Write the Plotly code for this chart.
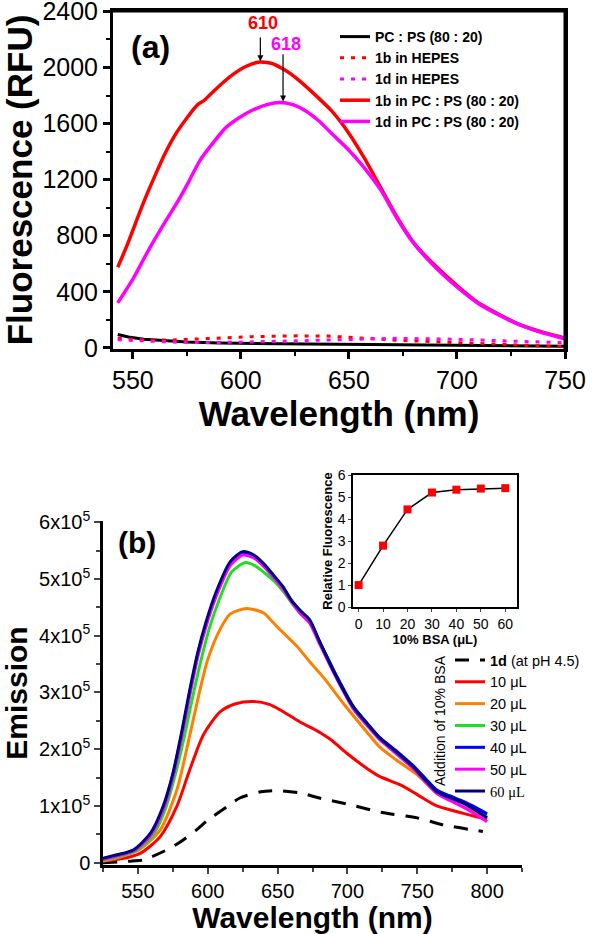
import plotly.graph_objects as go

# ---- panel (a) data: fluorescence (RFU) vs wavelength ----
wl_pcps = [543, 548, 555, 565, 575, 590, 610, 630, 660, 700, 750]
pcps = [95, 78, 62, 50, 42, 35, 30, 27, 24, 18, 12]

wl_1b_hepes = [543, 555, 568, 585, 605, 626, 640, 650, 672, 699, 727, 744, 750]
b1_hepes = [68, 58, 56, 68, 80, 86, 84, 76, 55, 38, 21, 10, 8]

wl_1d_hepes = [543, 555, 570, 590, 610, 626, 650, 672, 699, 727, 744, 750]
d1_hepes = [58, 48, 40, 38, 42, 50, 60, 68, 62, 50, 40, 36]

wl_1b_lip = [543, 547, 551, 555, 560, 565, 570, 575, 580, 583, 588, 595, 602, 608, 614, 620,
             627, 634, 642, 650, 657, 665, 672, 680, 690, 700, 710, 720, 730, 740, 750]
b1_lip = [575, 720, 880, 1040, 1220, 1390, 1530, 1640, 1735, 1765, 1840, 1935, 2005, 2038, 2030, 1985,
          1907, 1810, 1690, 1530, 1357, 1135, 940, 750, 585, 445, 320, 235, 160, 110, 70]

wl_1d_lip = [543, 550, 557, 565, 571, 576, 581, 587, 593, 599, 605, 612, 618, 624, 630, 636,
             642, 650, 657, 665, 672, 680, 690, 700, 710, 720, 730, 740, 750]
d1_lip = [321, 490, 690, 900, 1050, 1190, 1336, 1460, 1571, 1640, 1693, 1735, 1750, 1735, 1690, 1620,
          1529, 1410, 1286, 1120, 930, 745, 575, 435, 315, 230, 158, 105, 65]

# ---- panel (b) data: emission vs wavelength on BSA addition ----
wl_ph = [525, 546, 554, 571, 580, 592, 600, 614, 623, 638, 650, 666, 680, 702, 726, 750, 768, 797]
em_ph = [0, 3000, 5000, 23000, 36000, 58000, 75000, 99000, 114000, 125000, 127000, 123000,
         114000, 102000, 88000, 79000, 67000, 55000]

wl_10 = [525, 540, 552, 566, 578, 587, 597, 609, 620, 632, 644, 652, 666, 680, 688, 700, 714,
         723, 738, 750, 764, 783, 800]
em_10 = [3000, 8000, 17000, 46000, 100000, 163000, 226000, 266000, 280000, 284000, 279000, 269000,
         248000, 230000, 217000, 192000, 166000, 152000, 137000, 120000, 100000, 87000, 76000]

wl_20 = [525, 537, 551, 566, 578, 586, 594, 600, 609, 616, 628, 640, 645, 652, 664, 673, 683,
         697, 714, 723, 735, 750, 762, 780, 800]
em_20 = [3000, 10000, 23000, 58000, 129000, 212000, 300000, 358000, 412000, 438000, 448000, 440000,
         428000, 410000, 381000, 354000, 326000, 281000, 230000, 204000, 181000, 155000, 128000,
         102000, 79000]

wl_hi = [525, 535, 547, 559, 568, 575, 581, 587, 593, 599, 606, 616, 625, 633, 640, 647, 654,
         660, 666, 673, 680, 692, 704, 714, 723, 735, 747, 756, 764, 773, 783, 792, 800]
wl_30 = [525, 536, 548, 560, 569, 576, 583, 589, 595, 601, 608, 617, 627, 634, 641, 648, 655,
         660, 666, 673, 680, 692, 704, 714, 723, 735, 747, 756, 764, 773, 783, 792, 800]
em_30 = [5000, 11000, 20000, 46000, 90000, 148000, 220000, 290000, 355000, 412000, 462000, 512000,
         529000, 523000, 510000, 495000, 475000, 458000, 440000, 423000, 390000, 330000, 276000,
         246000, 220000, 196000, 170000, 146000, 127000, 116000, 105000, 93000, 82000]
em_40 = [7000, 13000, 22000, 50000, 96000, 154000, 222000, 298000, 368000, 422000, 472000, 525000,
         545000, 539000, 524000, 505000, 484000, 461000, 443000, 426000, 390000, 330000, 276000,
         246000, 221000, 197000, 171000, 148000, 128000, 118000, 108000, 97000, 86000]
em_50 = [6000, 12000, 21000, 48000, 93000, 151000, 218000, 294000, 364000, 418000, 469000, 523000,
         542000, 537000, 522000, 503000, 482000, 460000, 440000, 422000, 386000, 326000, 272000,
         242000, 217000, 192000, 166000, 142000, 122000, 110000, 98000, 85000, 72000]
em_60 = [8000, 14000, 23000, 52000, 99000, 157000, 226000, 303000, 372000, 426000, 477000, 530000,
         548000, 542000, 527000, 507000, 486000, 462000, 445000, 428000, 390000, 328000, 275000,
         245000, 220000, 195000, 169000, 145000, 125000, 115000, 105000, 92000, 79000]

# inset: relative fluorescence vs BSA volume
bsa_ul = [0, 10, 20, 30, 40, 50, 60]
rel_fl = [1.0, 2.8, 4.45, 5.22, 5.35, 5.4, 5.42]

em_ticks = [0, 100000, 200000, 300000, 400000, 500000, 600000]
em_ticktext = ["0", "1x10<sup>5</sup>", "2x10<sup>5</sup>", "3x10<sup>5</sup>",
               "4x10<sup>5</sup>", "5x10<sup>5</sup>", "6x10<sup>5</sup>"]

FONT = "Arial, Liberation Sans, sans-serif"
W, H = 600, 934


def px(x):
    return x / W


def py(y):
    return 1 - y / H


fig = go.Figure()

# panel (a)
fig.add_trace(go.Scatter(x=wl_pcps, y=pcps, mode="lines", name="PC : PS (80 : 20)",
                         line=dict(color="black", width=3), legend="legend"))
fig.add_trace(go.Scatter(x=wl_1b_hepes, y=b1_hepes, mode="lines", name="1b in HEPES",
                         line=dict(color="#ff0000", width=3, dash="4px,7px"), legend="legend"))
fig.add_trace(go.Scatter(x=wl_1d_hepes, y=d1_hepes, mode="lines", name="1d in HEPES",
                         line=dict(color="#ff00ff", width=3, dash="4px,7px"), legend="legend"))
fig.add_trace(go.Scatter(x=wl_1b_lip, y=b1_lip, mode="lines", name="1b in PC : PS (80 : 20)",
                         line=dict(color="#ff0000", width=3.5, shape="spline", smoothing=0.6),
                         legend="legend"))
fig.add_trace(go.Scatter(x=wl_1d_lip, y=d1_lip, mode="lines", name="1d in PC : PS (80 : 20)",
                         line=dict(color="#ff00ff", width=3.5, shape="spline", smoothing=0.6),
                         legend="legend"))

# panel (b)
b_series = [
    (wl_ph, em_ph, "<b>1d</b> (at pH 4.5)", "black", "14px,11px"),
    (wl_10, em_10, "10 \u03bcL", "#ff0000", "solid"),
    (wl_20, em_20, "20 \u03bcL", "#ff8000", "solid"),
    (wl_30, em_30, "30 \u03bcL", "#1ee01e", "solid"),
    (wl_hi, em_40, "40 \u03bcL", "#0000ff", "solid"),
    (wl_hi, em_50, "50 \u03bcL", "#ff00ff", "solid"),
    (wl_hi, em_60, '<span style="font-family:Liberation Serif">60 \u03bcL</span>', "#000080",
     "solid"),
]
for xs, ys, nm, col, dsh in b_series:
    fig.add_trace(go.Scatter(x=xs, y=ys, mode="lines", name=nm, xaxis="x2", yaxis="y2",
                             line=dict(color=col, width=3, dash=dsh, shape="spline",
                                       smoothing=0.7),
                             legend="legend2"))

# inset
fig.add_trace(go.Scatter(x=bsa_ul, y=rel_fl, mode="lines+markers", xaxis="x3", yaxis="y3",
                         line=dict(color="black", width=1.5),
                         marker=dict(symbol="square", size=8, color="#ff0000"),
                         showlegend=False))

tick_font = dict(family=FONT, size=25, color="black")
ax_a = dict(showline=True, mirror=True, linecolor="black", linewidth=3, ticks="outside",
            ticklen=7, tickwidth=2.5, tickcolor="black", tickfont=tick_font, showgrid=False,
            zeroline=False, automargin=False, ticklabeloverflow="allow")

# panel (a) frame edges in page fractions (top and right sides)
a_left, a_right, a_top, a_bottom = px(113), px(565), py(11), py(349)

fig.update_layout(
    width=W, height=H, margin=dict(l=0, r=0, t=0, b=0, autoexpand=False),
    paper_bgcolor="white", plot_bgcolor="white",
    font=dict(family=FONT, color="black"),
    xaxis=dict(ax_a, domain=[a_left, a_right], anchor="y", range=[540.8, 750], dtick=50,
               tick0=550, minor=dict(dtick=25, ticklen=4, tickwidth=2, ticks="outside"),
               title=dict(text="<b>Wavelength (nm)</b>", font=dict(size=35), standoff=0)),
    yaxis=dict(ax_a, domain=[a_bottom, a_top], anchor="x", range=[-8, 2403], dtick=400,
               minor=dict(dtick=200, ticklen=4, tickwidth=2, ticks="outside"),
               title=dict(text="<b>Fluorescence (RFU)</b>", font=dict(size=35), standoff=4)),
    xaxis2=dict(domain=[px(103), px(522)], anchor="y2", range=[525, 825], dtick=50, tick0=550,
                showline=True, linecolor="black", linewidth=2.5, ticks="outside", ticklen=6,
                tickwidth=2, tickfont=dict(family=FONT, size=20), showgrid=False, zeroline=False,
                automargin=False,
                minor=dict(dtick=25, ticklen=4, tickwidth=1.5, ticks="outside"),
                title=dict(text="<b>Wavelength (nm)</b>", font=dict(size=30), standoff=2)),
    yaxis2=dict(domain=[py(865), py(521)], anchor="x2", range=[-4000, 602000],
                tickvals=em_ticks, ticktext=em_ticktext, showline=True, linecolor="black",
                linewidth=2.5, ticks="outside", ticklen=6, tickwidth=2,
                tickfont=dict(family=FONT, size=20), showgrid=False, zeroline=False,
                automargin=False,
                minor=dict(dtick=50000, ticklen=4, tickwidth=1.5, ticks="outside"),
                title=dict(text="<b>Emission</b>", font=dict(size=30), standoff=8)),
    xaxis3=dict(domain=[px(353), px(517)], anchor="y3", range=[-2.3, 64.8], dtick=10,
                showline=True, mirror=True, linecolor="black", linewidth=1.5, ticks="outside",
                ticklen=3, tickwidth=1, tickfont=dict(family=FONT, size=14), showgrid=False,
                zeroline=False, automargin=False,
                title=dict(text="<b>10% BSA (\u03bcL)</b>", font=dict(size=13), standoff=2)),
    yaxis3=dict(domain=[py(607), py(475)], anchor="x3", range=[0, 6.02], dtick=1,
                showline=True, mirror=True, linecolor="black", linewidth=1.5, ticks="outside",
                ticklen=3, tickwidth=1, tickfont=dict(family=FONT, size=14), showgrid=False,
                zeroline=False, automargin=False,
                title=dict(text="<b>Relative Fluorescence</b>", font=dict(size=13), standoff=2)),
    legend=dict(x=px(335), y=py(21), xanchor="left", yanchor="top", bgcolor="rgba(0,0,0,0)",
                font=dict(family=FONT, size=14, weight="bold"), tracegroupgap=0,
                itemwidth=30),
    legend2=dict(x=px(450), y=py(644), xanchor="left", yanchor="top", bgcolor="rgba(0,0,0,0)",
                 font=dict(family=FONT, size=14.5), tracegroupgap=0, itemwidth=30),
    # top and right border of panel (a), drawn on the page layer
    shapes=[
        dict(type="line", xref="paper", yref="paper", x0=a_left, x1=a_right, y0=a_top,
             y1=a_top, line=dict(color="black", width=3), layer="above"),
        dict(type="line", xref="paper", yref="paper", x0=a_right, x1=a_right, y0=a_bottom,
             y1=a_top, line=dict(color="black", width=3), layer="above"),
    ],
    annotations=[
        dict(x=558, y=2143, xref="x", yref="y", text="<b>(a)</b>", showarrow=False,
             font=dict(size=32)),
        dict(x=610, y=2320, xref="x", yref="y", text="<b>610</b>", showarrow=False,
             font=dict(size=18, color="#ff0000")),
        dict(x=609, y=2045, xref="x", yref="y", ax=609, ay=2225, axref="x", ayref="y", text="",
             showarrow=True, arrowhead=2, arrowsize=1, arrowwidth=1.2, arrowcolor="black"),
        dict(x=621, y=2170, xref="x", yref="y", text="<b>618</b>", showarrow=False,
             font=dict(size=18, color="#ff00ff")),
        dict(x=619.5, y=1758, xref="x", yref="y", ax=619.5, ay=2105, axref="x", ayref="y",
             text="", showarrow=True, arrowhead=2, arrowsize=1, arrowwidth=1.2,
             arrowcolor="black"),
        dict(x=549, y=565000, xref="x2", yref="y2", text="<b>(b)</b>", showarrow=False,
             font=dict(size=30)),
        dict(x=px(440), y=py(720), xref="paper", yref="paper", text="Addition of 10% BSA",
             textangle=-90, showarrow=False, xanchor="center", yanchor="middle",
             font=dict(size=14)),
    ],
)

# drop the default 8px page margin so the figure sits at the window's corner
fig.write_html("out.html", config={"displayModeBar": False},
               post_script="document.body.style.margin='0px';")
